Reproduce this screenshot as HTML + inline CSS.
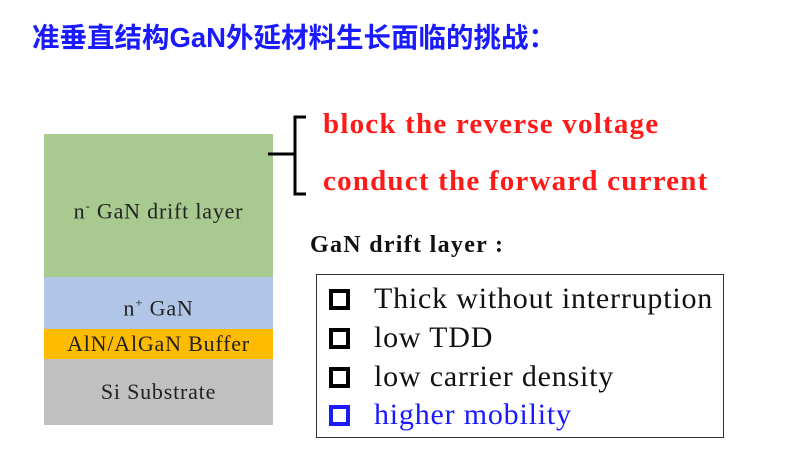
<!DOCTYPE html>
<html><head><meta charset="utf-8"><style>
body{margin:0;width:800px;height:461px;background:#fff;position:relative;overflow:hidden;font-family:"Liberation Serif",serif}
.a{position:absolute;white-space:nowrap}
.t{left:32px;top:15px;font:bold 27.5px "Liberation Sans","Noto Sans CJK SC",sans-serif;color:#1a1aff}
.l{position:absolute;left:44px;width:229px;text-align:center;font-size:22px;letter-spacing:0.8px;color:#222}
.r{color:#ff1a1a;font-weight:bold;font-size:29px;letter-spacing:1.2px;left:323px}
.it{left:374px;font-size:30px;letter-spacing:0.8px;color:#111}
.cb{position:absolute;left:329px;width:13px;height:13px;border:4px solid #000}
</style></head><body>
<div class="a t">准垂直结构GaN外延材料生长面临的挑战：</div>
<div class="l" style="top:134px;height:143px;background:#a8c98f;line-height:143px">n<sup style="font-size:13px">-</sup> GaN drift layer</div>
<div class="l" style="top:277px;height:52px;background:#b1c6e6;line-height:52px">n<sup style="font-size:13px">+</sup> GaN</div>
<div class="l" style="top:329px;height:30px;background:#ffbb00;line-height:30px">AlN/AlGaN Buffer</div>
<div class="l" style="top:359px;height:66px;background:#c0c0c0;line-height:66px">Si Substrate</div>
<svg class="a" style="left:0;top:0" width="800" height="461"><path d="M306 117 H295 V194 H306 M268 154 H295" fill="none" stroke="#000" stroke-width="3"/></svg>
<div class="a r" style="top:108px">block the reverse voltage</div>
<div class="a r" style="top:165px">conduct the forward current</div>
<div class="a" style="left:310px;top:232px;font-weight:bold;font-size:24px;letter-spacing:1.3px;color:#111">GaN drift layer :</div>
<div class="a" style="left:316px;top:274px;width:406px;height:162px;border:1px solid #333"></div>
<div class="cb" style="top:289px"></div>
<div class="cb" style="top:328px"></div>
<div class="cb" style="top:367px"></div>
<div class="cb" style="top:405px;border-color:#1a1aff"></div>
<div class="a it" style="top:282px">Thick without interruption</div>
<div class="a it" style="top:321px">low TDD</div>
<div class="a it" style="top:360px">low carrier density</div>
<div class="a it" style="top:398px;color:#1a1aff">higher mobility</div>
</body></html>
